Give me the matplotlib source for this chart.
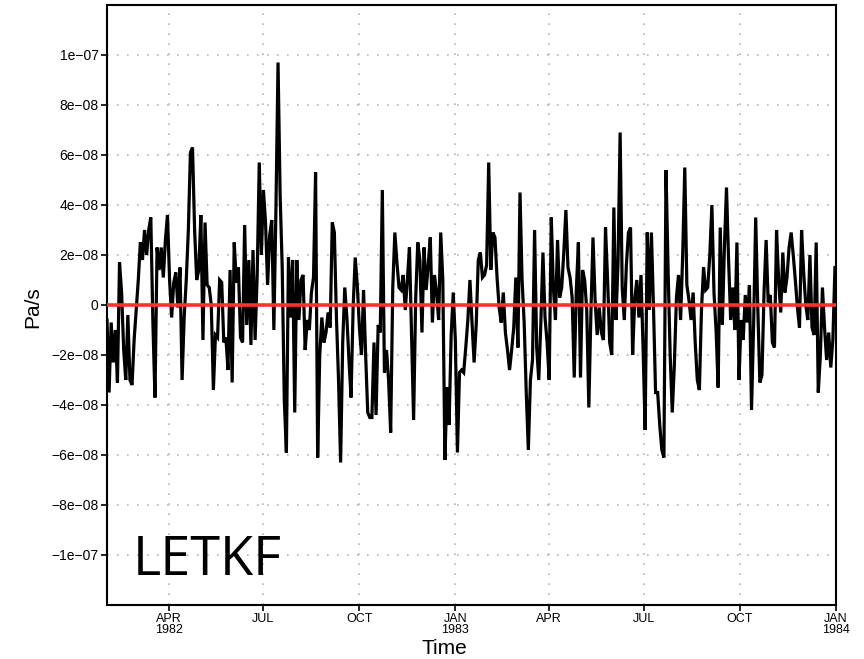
import matplotlib
matplotlib.use("Agg")
import matplotlib.pyplot as plt
import numpy as np
import pandas as pd

# ---------------- data ----------------
start_date = "1982-02-01"
end_date = "1984-01-01"
step = "2D"
# vertical velocity anomaly, in units of 1e-8 Pa/s, one value every 2 days
omega_1e8 = [
    -0.6, -3.5, -0.7, -2.3, -1.0, -3.1, 1.7, 0.5, -1.8, -3.0,
    -0.4, -3.0, -3.2, -1.4, -0.2, 1.0, 2.5, 1.8, 3.0, 2.0,
    3.0, 3.5, -0.7, -3.7, 2.3, 1.4, 2.3, 1.1, 2.6, 3.6,
    1.0, -0.5, 0.9, 1.3, -0.1, 1.5, -3.0, -0.5, 1.0, 3.0,
    6.1, 6.3, 3.0, 1.0, 1.4, 3.6, -1.4, 3.3, 0.8, 0.7,
    0.0, -3.4, -1.2, -1.3, 1.0, 0.9, -1.5, -1.3, -2.6, 1.4,
    -3.1, 2.5, 0.9, 1.5, -1.3, -1.5, 3.2, -0.8, 1.8, -1.6,
    2.2, -1.4, 1.2, 5.7, 2.0, 4.6, 3.3, 0.8, 2.8, 3.4,
    -1.0, 3.9, 9.7, 4.4, 1.5, -3.8, -5.9, 1.9, -0.5, 1.8,
    -4.3, 1.8, -0.6, 1.0, 1.2, -1.8, -0.6, -1.0, 0.5, 1.1,
    5.3, -6.1, -2.0, -0.5, -1.5, -1.1, -0.3, -0.9, 3.3, 2.9,
    -0.5, -3.0, -6.3, -1.5, 0.7, -0.5, -2.2, -3.7, -0.1, 1.9,
    0.8, -0.9, -2.0, 0.6, -2.0, -4.3, -4.5, -4.5, -1.5, -4.4,
    -0.8, -1.1, 4.6, -2.7, -1.8, -3.0, -5.1, 0.7, 2.9, 1.7,
    0.7, 0.6, 1.2, -0.2, 1.0, 2.3, -1.1, -4.6, 0.3, 2.5,
    1.8, -1.1, 2.3, 0.6, 1.6, 2.7, -0.7, 1.2, 0.5, -0.6,
    2.9, 1.0, -6.2, -3.3, -4.8, -1.2, 0.5, -1.4, -5.9, -2.7,
    -2.6, -2.7, -1.7, -0.6, 1.0, -0.7, -2.3, -0.8, 1.8, 2.1,
    1.1, 1.2, 1.6, 5.7, 1.4, 2.9, 2.7, 1.1, -0.1, -0.7,
    0.5, -1.1, -1.8, -2.6, -1.8, -0.9, 1.1, -1.7, 4.5, 1.0,
    -0.7, -3.5, -5.8, -3.0, -2.2, 3.0, -1.7, -3.0, -0.7, 2.1,
    -0.5, -1.5, -3.0, 3.5, 0.7, -0.6, 2.6, 0.3, 0.7, 2.1,
    3.8, 1.5, 1.1, 0.3, -2.9, 0.6, 2.5, -2.9, 1.4, 1.0,
    -0.2, -4.1, -0.3, 2.7, 0.2, -1.2, -0.1, -1.1, -1.4, 3.1,
    1.0, -1.5, -2.0, 3.9, -0.6, 1.7, 6.9, 0.7, -0.6, 1.6,
    2.9, 3.1, -2.0, 0.2, 1.0, -0.5, 1.2, -1.7, -5.0, 2.9,
    -0.2, 2.9, -0.1, -3.5, -3.5, -4.8, -5.8, -6.1, 5.4, 1.4,
    -2.0, -4.3, -2.4, 0.3, 1.2, -0.6, 2.0, 5.5, 0.8, 0.2,
    -0.6, 0.5, -1.5, -3.0, -3.4, -0.2, 1.5, 0.6, 0.7, 2.0,
    4.0, 0.5, -1.0, -3.3, 3.1, -0.8, 2.3, 4.7, 1.8, -0.6,
    0.7, -1.0, 2.5, -3.0, -0.6, -1.4, 0.4, -0.7, 0.8, -4.2,
    -0.8, 3.5, -0.1, -3.1, -2.8, 0.5, 2.6, 0.1, 0.4, -1.5,
    -1.7, 3.0, 1.0, -0.3, 2.1, 0.5, 1.1, 2.3, 2.9, 2.0,
    1.0, -0.1, -0.9, 3.0, 1.3, 0.0, -0.6, 2.0, -0.9, -1.2,
    2.5, -3.5, -2.0, 0.7, -0.9, -2.2, -1.1, -2.5, -1.4, 1.5,
]
value_scale = 1e-8

ytick_values = [-1e-7, -8e-8, -6e-8, -4e-8, -2e-8, 0, 2e-8, 4e-8, 6e-8, 8e-8, 1e-7]
ytick_labels = ["\u22121e\u221207", "\u22128e\u221208", "\u22126e\u221208", "\u22124e\u221208",
                "\u22122e\u221208", "0", "2e\u221208", "4e\u221208", "6e\u221208", "8e\u221208",
                "1e\u221207"]
xtick_dates = ["1982-04-01", "1982-07-01", "1982-10-01", "1983-01-01",
               "1983-04-01", "1983-07-01", "1983-10-01", "1984-01-01"]
xtick_labels = ["APR\n1982", "JUL", "OCT", "JAN\n1983", "APR", "JUL", "OCT", "JAN\n1984"]

# ---------------- plot ----------------
plt.rcParams['font.family'] = ['Liberation Sans', 'DejaVu Sans']

fig = plt.figure(figsize=(8.64, 6.59), dpi=100)
ax = fig.add_axes([107 / 864, 54 / 659, 729 / 864, 600 / 659])

dates = pd.date_range(start_date, periods=len(omega_1e8), freq=step)
values = np.array(omega_1e8) * value_scale

ax.plot(dates, values, color='black', lw=2.3, solid_joinstyle='miter', zorder=3)
ax.axhline(0, color='#ff3030', lw=2.6, zorder=4)

ax.set_xlim(pd.Timestamp(start_date), pd.Timestamp(end_date))
ax.set_ylim(-1.2e-7, 1.2e-7)

ax.set_yticks(ytick_values)
ax.set_yticklabels(ytick_labels, fontsize=10)
ax.set_xticks(pd.to_datetime(xtick_dates))
ax.set_xticklabels(xtick_labels, linespacing=0.9, fontsize=9)

ax.tick_params(axis='both', direction='out', length=4, width=1.2, pad=2)
ax.grid(True, color='#b5b5b5', linestyle=(0, (1, 5)), lw=1.2, zorder=0)

for sp in ax.spines.values():
    sp.set_linewidth(1.5)

fig.text(33 / 864, 1 - 307 / 659, "Pa/s", rotation=90, ha='center', va='center', fontsize=15)
fig.text(444 / 864, 1 - 649 / 659, "Time", ha='center', va='center', fontsize=15)

ax.text(0.035, 0.05, "LETKF", transform=ax.transAxes, ha='left', va='baseline',
        fontsize=39, family=['Open Sans', 'DejaVu Sans'], zorder=5)

fig.savefig("out.png", dpi=100)
